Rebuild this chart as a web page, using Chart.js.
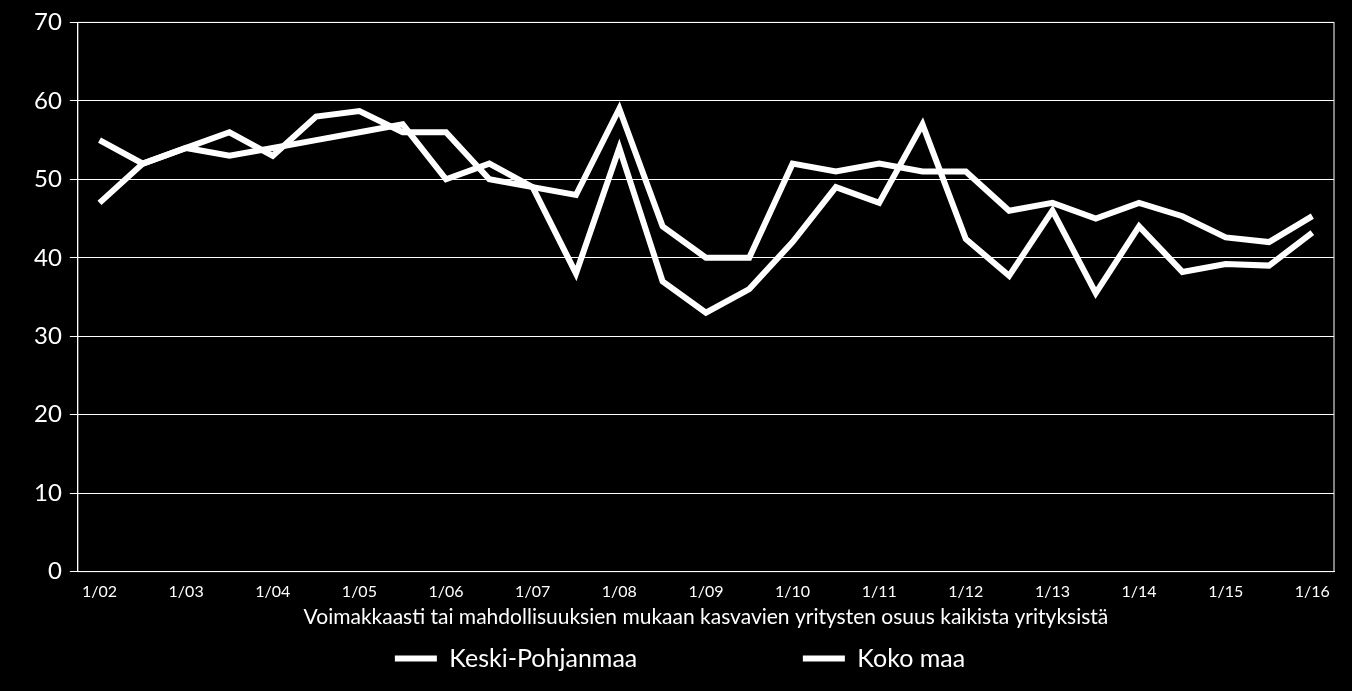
<!DOCTYPE html>
<html><head><meta charset="utf-8">
<script src="https://cdn.jsdelivr.net/npm/chart.js@4"></script>
<style>html,body{margin:0;background:#000;}#w{width:1352px;height:691px;}</style>
</head><body><div id="w"><canvas id="c"></canvas></div>
<script>
const years = ['02','03','04','05','06','07','08','09','10','11','12','13','14','15','16'];
const labels = [];
years.forEach((y,i)=>{labels.push('1/'+y); if(i<years.length-1) labels.push('');});
const keskiPohjanmaa = [47,52,54,53,54,55,56,57,50,52,49,38,54,37,33,36,42,49,47,57,42.4,37.7,46,35.5,44,38.2,39.2,39,43.2];
const kokoMaa = [55,52,54,56,53,58,58.7,56,56,50,49,48,59,44,40,40,52,51,52,51,51,46,47,45,47,45.3,42.6,42,45.3];
const yTicks = [0,10,20,30,40,50,60,70];
const font = "Lato, 'Open Sans', sans-serif";
new Chart(document.getElementById('c'),{
 type:'line',
 data:{labels,datasets:[
  {label:'Keski-Pohjanmaa',data:keskiPohjanmaa,borderColor:'#fff',borderWidth:6,pointRadius:0,tension:0},
  {label:'Koko maa',data:kokoMaa,borderColor:'#fff',borderWidth:6,pointRadius:0,tension:0}
 ]},
 options:{responsive:true,maintainAspectRatio:false,animation:false,
  layout:{padding:{left:26,right:18,top:14,bottom:10}},
  plugins:{legend:{position:'bottom',labels:{color:'#fff',font:{family:font,size:25},boxWidth:42,boxHeight:6,padding:12,
    generateLabels:(ch)=>ch.data.datasets.map((d,i)=>({text:d.label+'                              '.slice(0,i?0:24),fillStyle:'#fff',strokeStyle:'#fff',lineWidth:0,datasetIndex:i,fontColor:'#fff'}))}},
   tooltip:{enabled:false}},
  scales:{
   x:{offset:true,grid:{display:false},border:{color:'#fff',width:1},
      ticks:{color:'#fff',autoSkip:false,maxRotation:0,font:{family:font,size:16}},
      title:{display:true,text:'Voimakkaasti tai mahdollisuuksien mukaan kasvavien yritysten osuus kaikista yrityksistä',color:'#fff',font:{family:font,size:21},align:'center',padding:{top:0,bottom:4}}},
   y:{min:0,max:70,afterBuildTicks:(a)=>{a.ticks=yTicks.map(v=>({value:v}));},
      grid:{color:'#fff',lineWidth:1},border:{color:'#fff'},
      ticks:{color:'#fff',font:{family:font,size:24},padding:8}}
  }},
 plugins:[{id:'bg',beforeDraw:(c)=>{const x=c.ctx;x.save();x.fillStyle='#000';x.fillRect(0,0,c.width,c.height);x.restore();},
  afterDraw:(c)=>{const a=c.chartArea,x=c.ctx;x.save();x.strokeStyle='#fff';x.lineWidth=1;x.strokeRect(a.left,a.top,a.right-a.left,a.bottom-a.top);x.restore();}}]
});
</script></body></html>
